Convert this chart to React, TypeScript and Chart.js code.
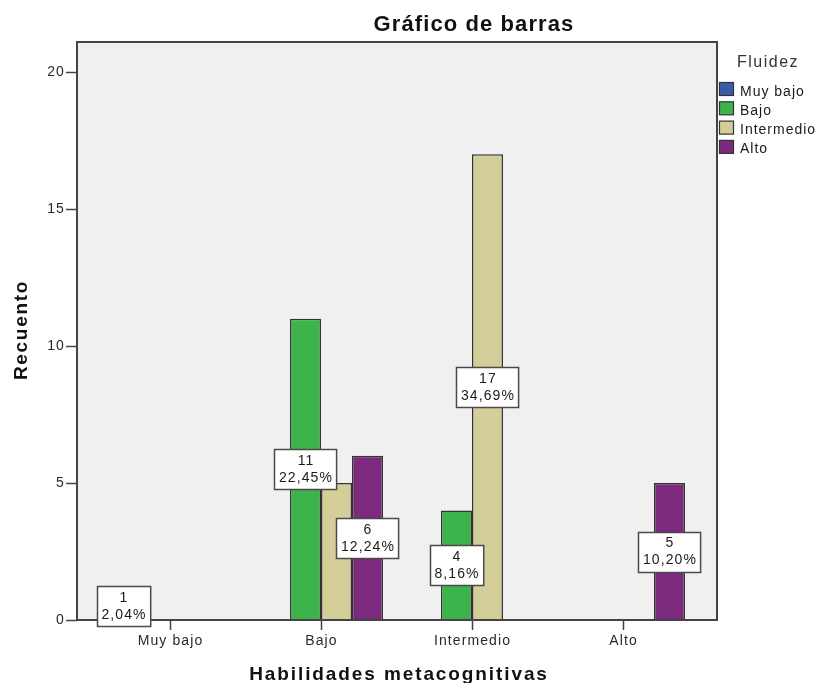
import React, { useEffect, useRef } from "react";
import { Chart, registerables } from "chart.js";

Chart.register(...registerables);

const categories = ["Muy bajo", "Bajo", "Intermedio", "Alto"];
const seriesNames = ["Muy bajo", "Bajo", "Intermedio", "Alto"];
const muyBajo = [1, null, null, null];
const bajo = [null, 11, 4, null];
const intermedio = [null, 5, 17, null];
const alto = [null, 6, null, 5];
const yTicks = [0, 5, 10, 15, 20];
const seriesColors = ["#3D5AA9", "#3DB44B", "#D4CE98", "#7B2A7E"];
// labels that are not shown in the original (hidden by overlap): "series|category"
const hiddenLabels = ["Intermedio|Bajo"];

const chartTitle = "Gráfico de barras";
const xTitle = "Habilidades metacognitivas";
const yTitle = "Recuento";
const legendTitle = "Fluidez";

const FRAME = { left: 77, top: 42, right: 717, bottom: 620 };
const SMALL = "14px 'Liberation Sans', Arial, sans-serif";

const allSeries = [muyBajo, bajo, intermedio, alto];
const total = allSeries.reduce(
  (s, arr) => s + arr.reduce((a: number, v) => a + (v == null ? 0 : v), 0),
  0
);

const decorPlugin = {
  id: "decor",
  beforeDraw(chart: any) {
    const ctx = chart.ctx;
    ctx.save();
    ctx.fillStyle = "#ffffff";
    ctx.fillRect(0, 0, chart.width, chart.height);
    ctx.fillStyle = "#F0F0F0";
    ctx.fillRect(FRAME.left, FRAME.top, FRAME.right - FRAME.left, FRAME.bottom - FRAME.top);
    ctx.restore();
  },
  afterDatasetsDraw(chart: any) {
    const ctx = chart.ctx;
    const yScale = chart.scales.y;
    const xScale = chart.scales.x;
    ctx.save();
    // frame
    ctx.strokeStyle = "#444444";
    ctx.lineWidth = 2;
    ctx.strokeRect(FRAME.left, FRAME.top, FRAME.right - FRAME.left, FRAME.bottom - FRAME.top);

    // y ticks
    ctx.lineWidth = 1.5;
    ctx.font = SMALL;
    (ctx as any).letterSpacing = "1.1px";
    ctx.fillStyle = "#2a2a2a";
    ctx.textAlign = "right";
    ctx.textBaseline = "middle";
    yTicks.forEach((v) => {
      const py = Math.round(yScale.getPixelForValue(v)) + 0.5;
      ctx.beginPath();
      ctx.moveTo(66, py);
      ctx.lineTo(FRAME.left, py);
      ctx.stroke();
      ctx.fillText(String(v), 65, py);
    });

    // x ticks
    ctx.textAlign = "center";
    ctx.textBaseline = "alphabetic";
    categories.forEach((c, i) => {
      const px = Math.round(xScale.getPixelForValue(i)) + 0.5;
      ctx.beginPath();
      ctx.moveTo(px, FRAME.bottom);
      ctx.lineTo(px, FRAME.bottom + 10);
      ctx.stroke();
      ctx.fillText(c, px, 645);
    });

    // value labels
    chart.data.datasets.forEach((ds: any, di: number) => {
      const meta = chart.getDatasetMeta(di);
      ds.data.forEach((v: any, i: number) => {
        if (v == null) return;
        if (hiddenLabels.includes(seriesNames[di] + "|" + categories[i])) return;
        const bar = meta.data[i];
        const cx = bar.x;
        const cy = yScale.getPixelForValue(v / 2);
        const l1 = String(v);
        const l2 = ((v / total) * 100).toFixed(2).replace(".", ",") + "%";
        ctx.font = SMALL;
        (ctx as any).letterSpacing = "1.1px";
        const w = Math.max(ctx.measureText(l1).width, ctx.measureText(l2).width) + 8;
        const h = 40;
        const bx = Math.round(cx - w / 2) + 0.5;
        const by = Math.round(cy - h / 2) + 0.5;
        ctx.fillStyle = "#ffffff";
        ctx.fillRect(bx, by, w, h);
        ctx.strokeStyle = "#4a4a4a";
        ctx.lineWidth = 1.5;
        ctx.strokeRect(bx, by, w, h);
        ctx.fillStyle = "#1a1a1a";
        ctx.textAlign = "center";
        ctx.textBaseline = "middle";
        ctx.fillText(l1, cx + 0.5, cy - 8);
        ctx.fillText(l2, cx + 0.5, cy + 9);
      });
    });

    // chart title
    ctx.fillStyle = "#111111";
    ctx.font = "bold 22px 'Liberation Sans', Arial, sans-serif";
    (ctx as any).letterSpacing = "1.1px";
    ctx.textAlign = "center";
    ctx.textBaseline = "alphabetic";
    ctx.fillText(chartTitle, 474, 31);

    // x title
    ctx.font = "bold 19px 'Liberation Sans', Arial, sans-serif";
    (ctx as any).letterSpacing = "1.9px";
    ctx.fillText(xTitle, 399, 680);

    // y title
    ctx.save();
    ctx.translate(27, 330);
    ctx.rotate(-Math.PI / 2);
    (ctx as any).letterSpacing = "1.7px";
    ctx.fillText(yTitle, 0, 0);
    ctx.restore();

    // legend
    ctx.font = "16px 'Liberation Sans', Arial, sans-serif";
    (ctx as any).letterSpacing = "1.5px";
    ctx.fillStyle = "#333333";
    ctx.textAlign = "left";
    ctx.fillText(legendTitle, 737, 67);
    ctx.font = SMALL;
    (ctx as any).letterSpacing = "1px";
    seriesNames.forEach((n, i) => {
      const top = 82 + i * 19.3;
      ctx.fillStyle = seriesColors[i];
      ctx.fillRect(719.5, top + 0.5, 14, 13);
      ctx.strokeStyle = "#333333";
      ctx.lineWidth = 1.2;
      ctx.strokeRect(719.5, top + 0.5, 14, 13);
      ctx.fillStyle = "#1a1a1a";
      ctx.textBaseline = "alphabetic";
      ctx.fillText(n, 740, top + 13.5);
    });
    ctx.restore();
  },
};

export default function App() {
  const ref = useRef<HTMLCanvasElement | null>(null);
  useEffect(() => {
    document.body.style.margin = "0";
    const canvas = ref.current!;
    const chart = new Chart(canvas, {
      type: "bar",
      data: {
        labels: categories,
        datasets: seriesNames.map((n, i) => ({
          label: n,
          data: allSeries[i],
          backgroundColor: seriesColors[i],
          borderColor: "#333333",
          borderWidth: 1.5,
          categoryPercentage: 124 / 151,
          barPercentage: 1,
        })),
      },
      options: {
        responsive: false,
        animation: false,
        devicePixelRatio: 1,
        layout: { padding: { left: 94.5, right: 118.5, top: 42, bottom: 63 } },
        plugins: { legend: { display: false }, tooltip: { enabled: false }, title: { display: false } },
        scales: {
          x: { type: "category", display: false, offset: true },
          y: { type: "linear", display: false, min: 0, max: 21.1 },
        },
      },
      plugins: [decorPlugin],
    });
    return () => chart.destroy();
  }, []);
  return (
    <canvas
      ref={ref}
      width={817}
      height={683}
      style={{ display: "block", width: 817, height: 683 }}
    />
  );
}
